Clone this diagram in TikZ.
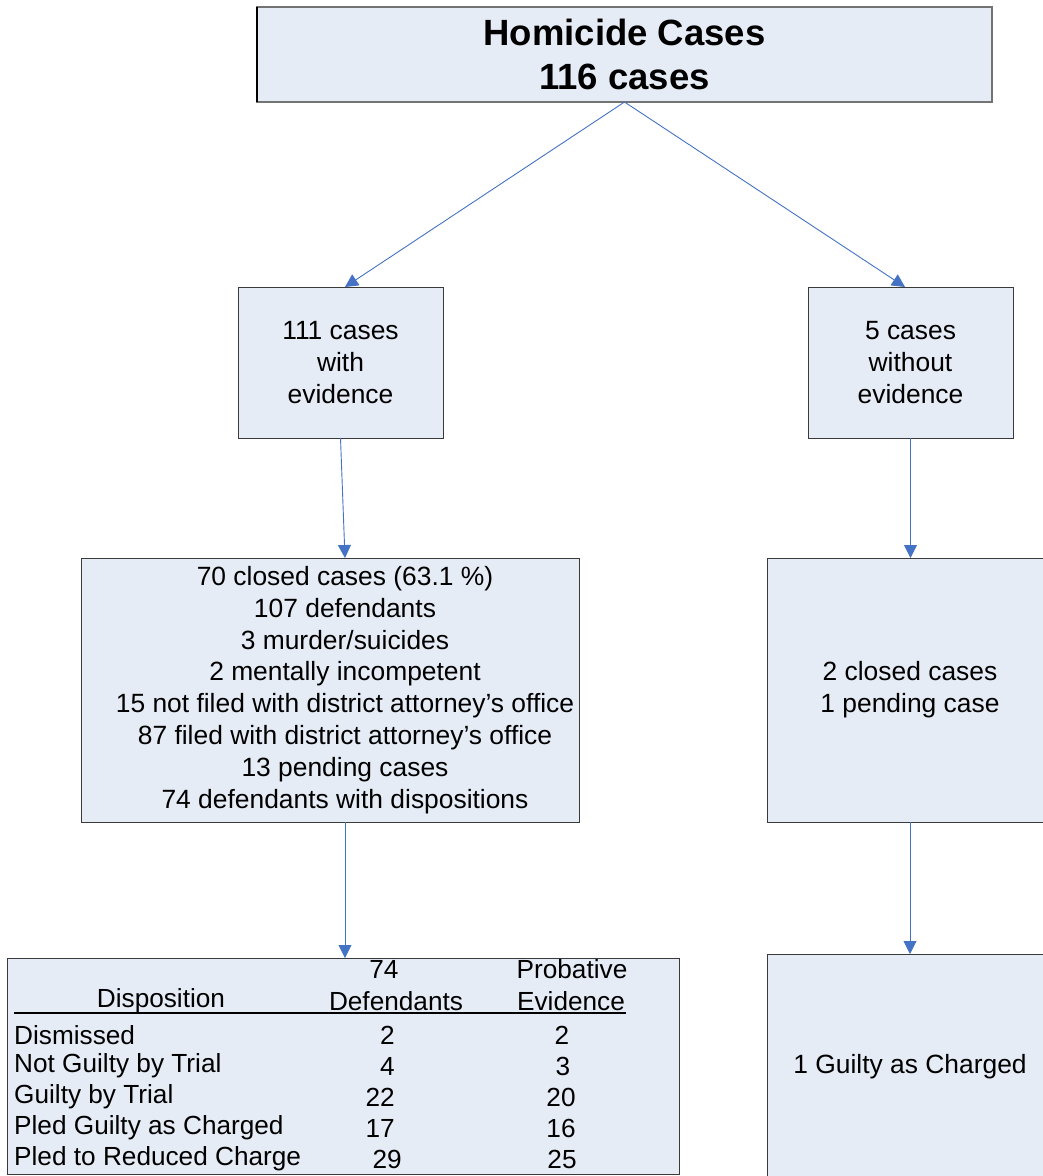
\documentclass[tikz,border=0pt]{standalone}
\usepackage{fontspec}
\setmainfont{Liberation Sans}
\usetikzlibrary{arrows.meta}
\definecolor{boxfill}{HTML}{E6ECF6}
\definecolor{flowblue}{HTML}{4472C4}
\definecolor{edgegray}{HTML}{3A3A3A}
\begin{document}
\begin{tikzpicture}[x=1pt,y=-1pt,
  box/.style={draw=edgegray, line width=1pt, fill=boxfill, inner sep=0pt, outer sep=0pt, align=center,
    font=\fontsize{26.4}{31.8}\selectfont},
  txt/.style={inner sep=0pt, align=center, font=\fontsize{26.4}{31.8}\selectfont},
  flow/.style={draw=flowblue, line width=0.9pt, -{Triangle[length=13pt,width=13pt]}},
  cell/.style={inner sep=0pt, font=\fontsize{26.2}{30}\selectfont},
  lcell/.style={cell, anchor=west},
  rcell/.style={cell, anchor=east}]
\useasboundingbox (0,0) rectangle (1043,1176);
\clip (0,0) rectangle (1043,1176);

% boxes
\node[box, line width=1.3pt, draw=black!55, minimum width=735pt, minimum height=95pt,
      font=\fontsize{36.5}{43.5}\selectfont\bfseries] (top) at (624.5,54.5) {Homicide Cases\\116 cases};
\draw[line width=1.3pt, black] (top.north west) -- (top.south west);
\node[box, minimum width=205pt, minimum height=151pt] (with) at (340.5,362.5) {111 cases\\with\\evidence};
\node[box, minimum width=205pt, minimum height=151pt] (without) at (910.5,362.5) {5 cases\\without\\evidence};
\node[box, minimum width=498pt, minimum height=264pt] (closed) at (330,690) {};
\node[txt] (closed-text) at (345,690)
  {70 closed cases (63.1 \%)\\107 defendants\\3 murder/suicides\\2 mentally incompetent\\
   15 not filed with district attorney’s office\\87 filed with district attorney’s office\\
   13 pending cases\\74 defendants with dispositions};
\node[box, minimum width=286pt, minimum height=264pt] (pending) at (910,690) {2 closed cases\\1 pending case};
\node[box, minimum width=672pt, minimum height=216pt] (table) at (343,1066) {};
\node[box, minimum width=286pt, minimum height=226pt] (guilty) at (910,1067) {1 Guilty as Charged};

% disposition table
\node[cell] (h2a) at (384,969) {74};
\node[cell] (h3a) at (572,969) {Probative};
\node[cell] (h1) at (161,1001) {Disposition};
\node[cell] (h2) at (396,1001) {Defendants};
\node[cell] (h3) at (571,1001) {Evidence};
\draw[line width=1.4pt] (14,1013) -- (626,1013);

\foreach \name/\lab/\a/\xa/\b/\xb [count=\i] in {
    d/Dismissed/2/395/2/562,
    n/Not Guilty by Trial/4/395/3/563,
    g/Guilty by Trial/22/395/20/561,
    p/Pled Guilty as Charged/17/395/16/561,
    r/Pled to Reduced Charge/29/402/25/562} {
  \node[lcell] (\name-lab) at (14,1004+31*\i) {\lab};
  \node[rcell] (\name-def) at (\xa,1004+31*\i) {\a};
  \node[cell] (\name-evi) at (\xb,1004+31*\i) {\b};
}

% connectors
\draw[flow] (top.south) -- ([xshift=4.5pt]with.north);
\draw[flow] (top.south) -- ([xshift=-5.5pt]without.north);
\draw[flow] (with.south) -- ([xshift=15pt]closed.north);
\draw[flow] (without.south) -- (without.south |- pending.north);
\draw[flow] ([xshift=15pt]closed.south) -- ([xshift=15pt]closed.south |- table.north);
\draw[flow] (pending.south) -- (pending.south |- guilty.north);
\end{tikzpicture}
\end{document}
